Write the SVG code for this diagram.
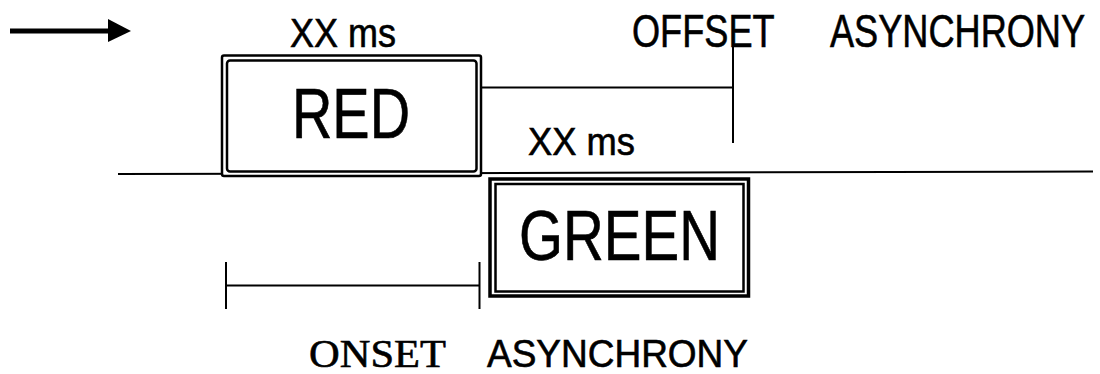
<svg xmlns="http://www.w3.org/2000/svg" width="1100" height="374" viewBox="0 0 1100 374">
  <style>
    .sans { font-family: "Liberation Sans", Arial, sans-serif; fill: #000; stroke: #000; stroke-width: 0.6; }
    .serif { font-family: "Liberation Serif", "Times New Roman", serif; fill: #000; stroke: #000; stroke-width: 0.6; }
    .ln { stroke: #000; stroke-width: 2; fill: none; }
    .box { stroke: #000; fill: #fff; }
  </style>
  <rect width="1100" height="374" fill="#fff"/>

  <!-- direction arrow -->
  <g id="arrow">
    <line x1="10" y1="31" x2="110" y2="31" stroke="#000" stroke-width="5"/>
    <polygon points="108,19 131,31 108,42" fill="#000"/>
  </g>

  <!-- connectors: time axis, offset and onset markers -->
  <g id="connectors">
    <line class="ln" x1="118" y1="174" x2="1093" y2="171.5"/>
    <line class="ln" x1="481" y1="87.5" x2="733" y2="87.5"/>
    <line class="ln" x1="733" y1="46" x2="733" y2="143"/>
    <line class="ln" x1="226" y1="262" x2="226" y2="309"/>
    <line class="ln" x1="226" y1="285.5" x2="479.5" y2="285.5"/>
    <line class="ln" x1="479.5" y1="262" x2="479.5" y2="309"/>
  </g>

  <g id="red">
    <rect class="box" x="222" y="55.5" width="259" height="120.5" rx="2" stroke-width="2.5"/>
    <rect class="box" x="227" y="60.5" width="249.5" height="111" rx="3" stroke-width="2.5"/>
    <text class="sans" x="292" y="138" font-size="70" textLength="118" lengthAdjust="spacingAndGlyphs">RED</text>
  </g>

  <g id="green">
    <rect class="box" x="490" y="179" width="258.5" height="117" stroke-width="3.5"/>
    <rect class="box" x="495.5" y="184" width="248" height="107.5" stroke-width="2.5"/>
    <text class="sans" x="519" y="260" font-size="70" textLength="201" lengthAdjust="spacingAndGlyphs">GREEN</text>
  </g>

  <g id="red-duration">
    <text class="sans" x="290" y="47" font-size="40" textLength="106" lengthAdjust="spacingAndGlyphs">XX ms</text>
  </g>
  <g id="green-duration">
    <text class="sans" x="528" y="155" font-size="38" textLength="107" lengthAdjust="spacingAndGlyphs">XX ms</text>
  </g>
  <g id="offset-label">
    <!-- condensed caption: horizontal squeeze of a 46px face -->
    <text class="sans" transform="translate(632,46.5) scale(0.786,1)" x="0" y="0" font-size="46">OFFSET</text>
    <text class="sans" transform="translate(830,46.5) scale(0.786,1)" x="0" y="0" font-size="46">ASYNCHRONY</text>
  </g>
  <g id="onset-label">
    <text class="serif" x="309" y="367" font-size="40" textLength="137" lengthAdjust="spacingAndGlyphs">ONSET</text>
    <text class="sans" x="487" y="367" font-size="38" textLength="261" lengthAdjust="spacingAndGlyphs">ASYNCHRONY</text>
  </g>
</svg>
